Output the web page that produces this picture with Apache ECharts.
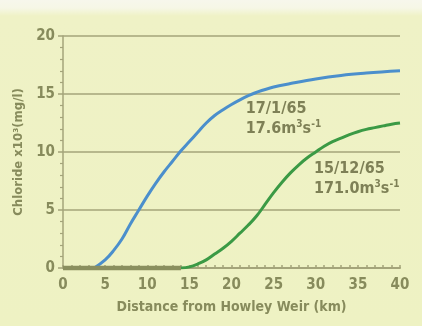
<!DOCTYPE html>
<html><head><meta charset="utf-8">
<script src="https://cdn.jsdelivr.net/npm/echarts@6/dist/echarts.min.js"></script>
<style>
html,body{margin:0;padding:0;}
body{width:422px;height:326px;background:linear-gradient(#f7f7ec 0px,#f6f7e6 8px,#eff2c6 16px,#eef2c3 100%);}
#c{width:422px;height:326px;}
</style></head>
<body><div id="c"></div>
<script>
// Distance (km) and chloride (x10^3 mg/l)
const blueX = [0, 2, 3.7, 5, 6, 7, 8, 9, 10, 11, 12, 13, 14, 15, 16, 17, 18, 19, 20, 21, 22, 23, 25, 27, 30, 33, 36, 40];
const blueY = [0, 0, 0, 0.7, 1.5, 2.5, 3.8, 5.0, 6.2, 7.3, 8.3, 9.2, 10.1, 10.9, 11.7, 12.5, 13.15, 13.65, 14.1, 14.5, 14.85, 15.15, 15.6, 15.9, 16.3, 16.6, 16.8, 17.0];
const greenX = [0, 5, 10, 14, 15, 16, 17, 18, 19, 20, 21, 22, 23, 24, 25, 26, 27, 28, 29, 30, 31, 32, 33, 34, 35, 36, 37, 38, 39, 40];
const greenY = [0, 0, 0, 0, 0.1, 0.35, 0.7, 1.2, 1.7, 2.3, 3.0, 3.7, 4.5, 5.5, 6.5, 7.4, 8.2, 8.9, 9.5, 10.0, 10.5, 10.9, 11.2, 11.5, 11.75, 11.95, 12.1, 12.25, 12.4, 12.5];
const xTicks = [0, 5, 10, 15, 20, 25, 30, 35, 40];
const yTicks = [0, 5, 10, 15, 20];
const blueLabel = ['17/1/65', '17.6m³s⁻¹'];
const greenLabel = ['15/12/65', '171.0m³s⁻¹'];

const FONT = "'Liberation Sans Narrow', 'DejaVu Sans Condensed', sans-serif";
const TXT = '#878b5c';
const LBL = '#7e8056';
const GRID = '#a4a47a';
const ZERO = '#8a8f5e';

const chart = echarts.init(document.getElementById('c'), null, {renderer: 'canvas'});
const pair = (xs, ys) => xs.map((x, i) => [x, ys[i]]);
function zeroPart(xs, ys) {
  const out = [];
  for (let i = 0; i < xs.length && ys[i] === 0; i++) out.push([xs[i], ys[i]]);
  return out;
}
function risePart(xs, ys) {
  let k = 0;
  while (k < ys.length - 1 && ys[k + 1] === 0) k++;
  return pair(xs, ys).slice(k);
}
const rich = {
  t: {fontFamily: FONT, fontWeight: 'bold', fontSize: 16, fill: LBL, lineHeight: 20},
  s: {fontFamily: FONT, fontWeight: 'bold', fontSize: 10, fill: LBL, verticalAlign: 'top', lineHeight: 20, padding: [0, 0, 7, 0]}
};
function unitRich(s) {
  const m = s.match(/^(.*m)³(s)⁻¹$/);
  return '{t|' + m[1] + '}{s|3}{t|' + m[2] + '}{s|-1}';
}
chart.setOption({
  animation: false,
  grid: {left: 63, right: 22, top: 36, bottom: 58},
  xAxis: {
    type: 'value', min: 0, max: 40, interval: 5,
    name: 'Distance from Howley Weir (km)', nameLocation: 'middle', nameGap: 32,
    nameTextStyle: {fontFamily: FONT, fontWeight: 'bold', fontSize: 14, color: TXT},
    axisLine: {show: true, lineStyle: {color: GRID, width: 2}},
    axisTick: {show: true, inside: true, length: 3, lineStyle: {color: GRID, width: 1.5}},
    minorTick: {show: true, splitNumber: 5, length: 3, lineStyle: {color: GRID, width: 1.5}},
    axisLabel: {fontFamily: FONT, fontWeight: 'bold', fontSize: 15, color: TXT, margin: 10,
      formatter: v => xTicks.includes(v) ? String(v) : ''},
    splitLine: {show: false}
  },
  yAxis: {
    type: 'value', min: 0, max: 20, interval: 5,
    name: 'Chloride x10³(mg/l)', nameLocation: 'middle', nameGap: 35, nameRotate: 90,
    nameTextStyle: {fontFamily: FONT, fontWeight: 'bold', fontSize: 13, color: TXT},
    axisLine: {show: true, lineStyle: {color: GRID, width: 1.5}},
    axisTick: {show: true, inside: false, length: 5, lineStyle: {color: GRID, width: 1.5}},
    minorTick: {show: true, splitNumber: 5, length: 3, lineStyle: {color: GRID, width: 1.2}},
    axisLabel: {fontFamily: FONT, fontWeight: 'bold', fontSize: 15, color: TXT, margin: 8,
      formatter: v => yTicks.includes(v) ? String(v) : ''},
    splitLine: {show: true, lineStyle: {color: GRID, width: 1.5}}
  },
  series: [
    {type: 'line', data: zeroPart(greenX, greenY), showSymbol: false, silent: true, clip: false,
     lineStyle: {width: 4.5, color: ZERO, type: 'solid'}, z: 20, zlevel: 1},
    {type: 'line', data: risePart(blueX, blueY), smooth: 0.4, showSymbol: false,
     lineStyle: {width: 3, color: '#4b8fcc'}, z: 3},
    {type: 'line', data: risePart(greenX, greenY), smooth: 0.4, showSymbol: false,
     lineStyle: {width: 3, color: '#3b9a45'}, z: 3}
  ]
});

const p1 = chart.convertToPixel({gridIndex: 0}, [21.7, 14.57]);
const p2 = chart.convertToPixel({gridIndex: 0}, [29.8, 9.4]);
chart.setOption({graphic: [
  {type: 'text', x: p1[0], y: p1[1], z: 10,
   style: {text: '{t|' + blueLabel[0] + '}\n' + unitRich(blueLabel[1]), rich: rich}},
  {type: 'text', x: p2[0], y: p2[1], z: 10,
   style: {text: '{t|' + greenLabel[0] + '}\n' + unitRich(greenLabel[1]), rich: rich}}
]});
</script>
</body></html>
